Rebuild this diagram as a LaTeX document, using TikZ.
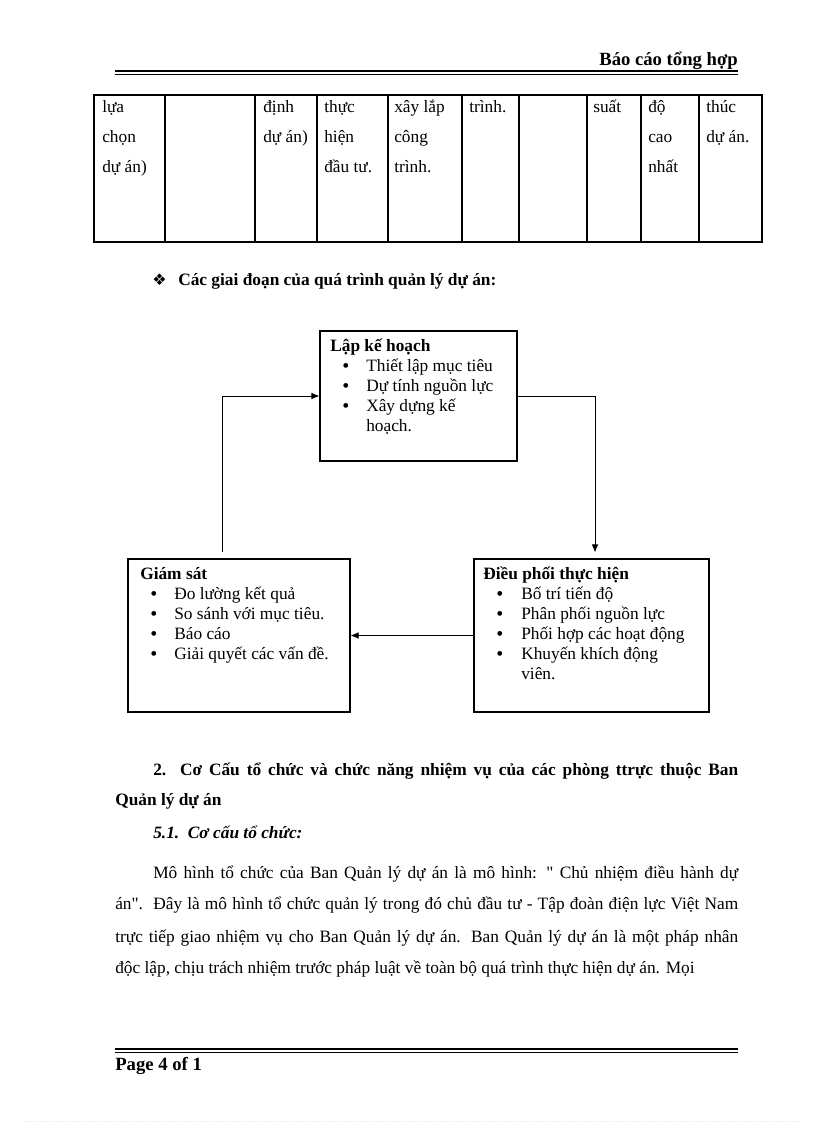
\documentclass[tikz,border=0pt]{standalone}
\usepackage{fontspec}
\setmainfont{Liberation Serif}[Ligatures=TeXOff]
\newfontfamily\symfont{DejaVu Sans}
\usetikzlibrary{arrows.meta}
\begin{document}
\begin{tikzpicture}[x=0.75pt,y=-0.75pt,
  txt/.style={anchor=base west,inner sep=0pt,font=\fontsize{13}{15}\selectfont},
  btxt/.style={txt,font=\fontsize{13}{15}\selectfont\bfseries},
  bul/.style={anchor=base west,inner sep=0pt,font=\fontsize{15}{15}\selectfont},
  box/.style={draw,line width=0.8pt,inner sep=0pt},
  grid/.style={line width=0.8pt},
  conn/.style={line width=0.7pt},
  arr/.style={conn,-{Latex[length=6pt,width=5pt]}}]
\useasboundingbox (0,0) rectangle (816,1123);
\fill[white] (0,0) rectangle (816,1123);

% header
\node[btxt,anchor=base east,font=\fontsize{14}{16}\selectfont\bfseries] (hdr) at (738,66) {Báo cáo tổng hợp};
\draw[line width=1.4pt] (115,71) -- (738,71);
\draw[line width=0.6pt] (115,74) -- (738,74);

% table
\draw[grid] (94,95) rectangle (762,242);
\foreach \xx in {165,255,317,388,462,519,587,641,699}
  \draw[grid] (\xx,95) -- (\xx,242);
\node[txt] (t1a) at (102,113) {lựa};
\node[txt] (t1b) at (102,143) {chọn};
\node[txt] (t1c) at (102,173) {dự án)};
\node[txt] (t3a) at (263,113) {định};
\node[txt] (t3b) at (263,143) {dự án)};
\node[txt] (t4a) at (324,113) {thực};
\node[txt] (t4b) at (324,143) {hiện};
\node[txt] (t4c) at (324,173) {đầu tư.};
\node[txt] (t5a) at (394,113) {xây lắp};
\node[txt] (t5b) at (394,143) {công};
\node[txt] (t5c) at (394,173) {trình.};
\node[txt] (t6a) at (469,113) {trình.};
\node[txt] (t8a) at (593,113) {suất};
\node[txt] (t9a) at (648,113) {độ};
\node[txt] (t9b) at (648,143) {cao};
\node[txt] (t9c) at (648,173) {nhất};
\node[txt] (t10a) at (706,113) {thúc};
\node[txt] (t10b) at (706,143) {dự án.};

% heading
\node[bul,font=\fontsize{12}{12}\symfont] (hb) at (152,285) {❖};
\node[btxt] (hd) at (178,285) {Các giai đoạn của quá trình quản lý dự án:};

% boxes
\node[box,minimum width=197*0.75pt,minimum height=130*0.75pt] (lkh) at (418.5,396) {};
\node[box,minimum width=222*0.75pt,minimum height=153*0.75pt] (gs) at (239,635.5) {};
\node[box,minimum width=235*0.75pt,minimum height=153*0.75pt] (dp) at (591.5,635.5) {};

\node[btxt] (lkht) at (330,351) {Lập kế hoạch};
\node[bul] (lb1) at (342,372) {•};
\node[txt] (l1) at (366,371) {Thiết lập mục tiêu};
\node[bul] (lb2) at (342,392) {•};
\node[txt] (l2) at (366,391) {Dự tính nguồn lực};
\node[bul] (lb3) at (342,412) {•};
\node[txt] (l3) at (366,411) {Xây dựng kế};
\node[txt] (l3b) at (366,431) {hoạch.};

\node[btxt] (gst) at (140,579) {Giám sát};
\node[bul] (gb1) at (150,600) {•};
\node[txt] (g1) at (174,599) {Đo lường kết quả};
\node[bul] (gb2) at (150,620) {•};
\node[txt] (g2) at (174,619) {So sánh với mục tiêu.};
\node[bul] (gb3) at (150,640) {•};
\node[txt] (g3) at (174,639) {Báo cáo};
\node[bul] (gb4) at (150,660) {•};
\node[txt] (g4) at (174,659) {Giải quyết các vấn đề.};

\node[btxt] (dpt) at (483,579) {Điều phối thực hiện};
\node[bul] (db1) at (496,600) {•};
\node[txt] (d1) at (521,599) {Bố trí tiến độ};
\node[bul] (db2) at (496,620) {•};
\node[txt] (d2) at (521,619) {Phân phối nguồn lực};
\node[bul] (db3) at (496,640) {•};
\node[txt] (d3) at (521,639) {Phối hợp các hoạt động};
\node[bul] (db4) at (496,660) {•};
\node[txt] (d4) at (521,659) {Khuyến khích động};
\node[txt] (d4b) at (521,679) {viên.};

% connectors
\coordinate (gsup) at (222,552);
\draw[arr] (gsup) |- (lkh.west);
\draw[arr] (lkh.east) -| ([xshift=3.5*0.75pt,yshift=4.5pt]dp.north);
\draw[arr] (dp.west) -- (gs.east);

% section 2
\node[btxt] (s2a) at (153,775) {\hbox to 438.75pt{2.\ \ Cơ Cấu tổ chức và chức năng nhiệm vụ của các phòng ttrực thuộc Ban}};
\node[btxt] (s2b) at (115,805) {Quản lý dự án};
\node[btxt,font=\fontsize{13}{15}\selectfont\bfseries\itshape] (s51) at (153,838) {5.1.\ \ Cơ cấu tổ chức:};

% paragraph
\node[txt] (p1) at (153,878) {\hbox to 438.75pt{Mô hình tổ chức của Ban Quản lý dự án là mô hình: " Chủ nhiệm điều hành dự}};
\node[txt] (p2) at (115,909) {\hbox to 467.25pt{án".\ \ Đây là mô hình tổ chức quản lý trong đó chủ đầu tư - Tập đoàn điện lực Việt Nam}};
\node[txt] (p3) at (115,942) {\hbox to 467.25pt{trực tiếp giao nhiệm vụ cho Ban Quản lý dự án. Ban Quản lý dự án là một pháp nhân}};
\node[txt] (p4) at (115,973) {độc lập, chịu trách nhiệm trước pháp luật về toàn bộ quá trình thực hiện dự án. Mọi};

% footer
\draw[line width=1.4pt] (115,1049) -- (738,1049);
\draw[line width=0.6pt] (115,1052) -- (738,1052);
\node[btxt,font=\fontsize{14}{16}\selectfont\bfseries] (pg) at (115,1070) {Page 4 of 1};
\draw[gray!25,dotted] (24,1121) -- (800,1121);
\end{tikzpicture}
\end{document}
